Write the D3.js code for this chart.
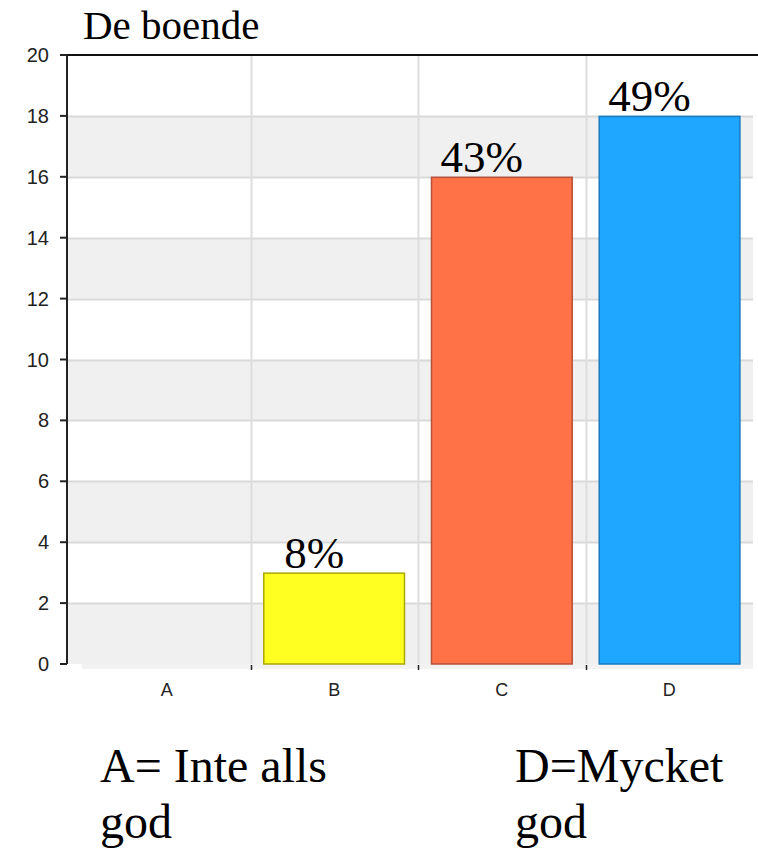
<!DOCTYPE html>
<html><head><meta charset="utf-8">
<script src="https://cdn.jsdelivr.net/npm/d3@7"></script>
<style>
body{margin:0;background:#fff}svg{display:block}
text.serif{font-family:'Liberation Serif','DejaVu Serif',serif}
text.sans{font-family:'Liberation Sans','DejaVu Sans',sans-serif}
</style>
</head><body>
<script>
const categories = ["A","B","C","D"];
const values = [0, 3, 16, 18];
const percentLabels = ["", "8%", "43%", "49%"];
const colors = ["#cccccc", "#ffff22", "#ff7248", "#1fa6ff"];
const strokes = ["#999999", "#a8a800", "#b5503a", "#1a7bbf"];
const yTicks = [0,2,4,6,8,10,12,14,16,18,20];
const title = "De boende";
const noteLeft = ["A= Inte alls", "god"];
const noteRight = ["D=Mycket", "god"];

(function(){
const W = 758, H = 850;
const svg = d3.select("body").append("svg").attr("width", W).attr("height", H);

const axisX = 67, plotRight = 753, plotTop = 55, plotBottom = 664;
const y = d3.scaleLinear().domain([0, 20]).range([plotBottom, plotTop]);
const xGrid = d3.scaleBand().domain(categories).range([83, plotRight]).padding(0);
const x = d3.scaleBand().domain(categories).range([83, plotRight]).paddingInner(0.155).paddingOuter(0.075);

const bandPairs = d3.range(0, 20, 2);
svg.selectAll("rect.band").data(bandPairs).join("rect")
  .attr("x", axisX).attr("width", plotRight - axisX)
  .attr("y", d => y(d + 2)).attr("height", d => y(d) - y(d + 2))
  .attr("fill", (d, i) => i % 2 === 0 ? "#f0f0f0" : "#ffffff");

svg.append("rect").attr("x", 82).attr("y", plotBottom).attr("width", plotRight - 82).attr("height", 5).attr("fill", "#f2f2f2");

svg.selectAll("line.hg").data(yTicks.filter(d => d > 0 && d < 20)).join("line")
  .attr("x1", axisX).attr("x2", plotRight)
  .attr("y1", d => Math.round(y(d)) + 0.5).attr("y2", d => Math.round(y(d)) + 0.5)
  .attr("stroke", "#d9d9d9").attr("stroke-width", 2);

const vBounds = categories.slice(1).map(c => xGrid(c));
svg.selectAll("line.vg").data(vBounds).join("line")
  .attr("x1", d => Math.round(d) + 0.5).attr("x2", d => Math.round(d) + 0.5)
  .attr("y1", plotTop).attr("y2", plotBottom)
  .attr("stroke", "#dddddd").attr("stroke-width", 2);
svg.selectAll("line.xt").data(vBounds).join("line")
  .attr("x1", d => Math.round(d) + 0.5).attr("x2", d => Math.round(d) + 0.5)
  .attr("y1", plotBottom + 1).attr("y2", plotBottom + 6)
  .attr("stroke", "#222").attr("stroke-width", 1.5);

svg.selectAll("rect.bar").data(categories).join("rect")
  .attr("x", c => x(c) + 0.5)
  .attr("y", (c, i) => y(values[i]) + 0.5)
  .attr("width", x.bandwidth() - 1)
  .attr("height", (c, i) => Math.max(0, y(0) - y(values[i]) - 0.5))
  .attr("fill", (c, i) => colors[i])
  .attr("stroke", (c, i) => strokes[i])
  .attr("stroke-width", 1.5)
  .attr("display", (c, i) => values[i] > 0 ? null : "none");

svg.append("line").attr("x1", axisX).attr("x2", W).attr("y1", plotTop).attr("y2", plotTop).attr("stroke", "#111").attr("stroke-width", 2);
svg.append("line").attr("x1", axisX).attr("x2", axisX).attr("y1", plotTop).attr("y2", plotBottom).attr("stroke", "#222").attr("stroke-width", 2);

svg.selectAll("line.yt").data(yTicks).join("line")
  .attr("x1", axisX - 7).attr("x2", axisX).attr("y1", d => y(d)).attr("y2", d => y(d))
  .attr("stroke", "#222").attr("stroke-width", 2);
svg.selectAll("text.yl").data(yTicks).join("text")
  .attr("class", "sans")
  .attr("x", 49).attr("y", d => y(d) + 7)
  .attr("text-anchor", "end")
  .style("font-size", "20px")
  .attr("fill", "#222").text(d => d);

svg.selectAll("text.xl").data(categories).join("text")
  .attr("class", "sans")
  .attr("x", c => xGrid(c) + xGrid.bandwidth() / 2)
  .attr("y", 696)
  .attr("text-anchor", "middle")
  .style("font-size", "18px")
  .attr("fill", "#222").text(c => c);

svg.selectAll("text.pl").data(categories).join("text")
  .attr("class", "serif")
  .attr("x", c => x(c) + x.bandwidth() / 2 - 20)
  .attr("y", (c, i) => y(values[i]) - 5)
  .attr("text-anchor", "middle")
  .style("font-size", "45px")
  .attr("fill", "#000").text((c, i) => percentLabels[i]);

svg.append("text").attr("class", "serif").attr("x", 83).attr("y", 39)
  .style("font-size", "41px")
  .attr("fill", "#000").text(title);

svg.selectAll("text.nl").data(noteLeft).join("text")
  .attr("class", "serif")
  .attr("x", 100).attr("y", (d, i) => 782 + i * 56)
  .style("font-size", "48px").attr("fill", "#000").text(d => d);
svg.selectAll("text.nr").data(noteRight).join("text")
  .attr("class", "serif")
  .attr("x", 515).attr("y", (d, i) => 782 + i * 56)
  .style("font-size", "48px").attr("fill", "#000").text(d => d);
})();
</script>
</body></html>
